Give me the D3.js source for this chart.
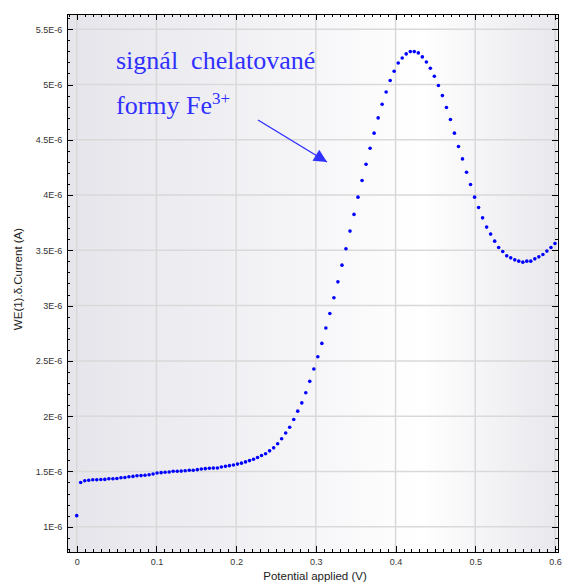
<!DOCTYPE html>
<html>
<head>
<meta charset="utf-8">
<script src="https://cdn.jsdelivr.net/npm/d3@7"></script>
<style>
  body { margin: 0; background: #ffffff; }
  .axis text { font-family: "Liberation Sans", Arial, sans-serif; font-size: 9px; fill: #333333; }
  .axis path, .axis line { stroke: #000000; shape-rendering: crispEdges; }
  .grid line { stroke: #d9d9d9; stroke-width: 1.5px; }
  .title { font-family: "Liberation Sans", Arial, sans-serif; font-size: 11.5px; fill: #222222; }
  .note { font-family: "Liberation Serif", "Times New Roman", serif; font-size: 26px; fill: #3030ff; }
</style>
</head>
<body>
<div id="chart"></div>
<script>
"use strict";

// potential applied (V)
var potentials = [
  0.0000, 0.0050, 0.0101, 0.0151, 0.0202, 0.0252, 0.0303, 0.0353, 0.0403, 0.0454,
  0.0504, 0.0555, 0.0605, 0.0655, 0.0706, 0.0756, 0.0807, 0.0857, 0.0908, 0.0958,
  0.1008, 0.1059, 0.1109, 0.1160, 0.1210, 0.1261, 0.1311, 0.1361, 0.1412, 0.1462,
  0.1513, 0.1563, 0.1613, 0.1664, 0.1714, 0.1765, 0.1815, 0.1866, 0.1916, 0.1966,
  0.2017, 0.2067, 0.2118, 0.2168, 0.2218, 0.2269, 0.2319, 0.2370, 0.2420, 0.2471,
  0.2521, 0.2571, 0.2622, 0.2672, 0.2723, 0.2773, 0.2824, 0.2874, 0.2924, 0.2975,
  0.3025, 0.3076, 0.3126, 0.3176, 0.3227, 0.3277, 0.3328, 0.3378, 0.3429, 0.3479,
  0.3529, 0.3580, 0.3630, 0.3681, 0.3731, 0.3782, 0.3832, 0.3882, 0.3933, 0.3983,
  0.4034, 0.4084, 0.4134, 0.4185, 0.4235, 0.4286, 0.4336, 0.4387, 0.4437, 0.4487,
  0.4538, 0.4588, 0.4639, 0.4689, 0.4739, 0.4790, 0.4840, 0.4891, 0.4941, 0.4992,
  0.5042, 0.5092, 0.5143, 0.5193, 0.5244, 0.5294, 0.5345, 0.5395, 0.5445, 0.5496,
  0.5546, 0.5597, 0.5647, 0.5697, 0.5748, 0.5798, 0.5849, 0.5899, 0.5950, 0.6000
];

// WE(1).δ.Current, in units of 1E-6 A
var currents = [
  1.100, 1.400, 1.415, 1.420, 1.424, 1.425, 1.427, 1.428, 1.433, 1.434,
  1.436, 1.443, 1.445, 1.452, 1.455, 1.461, 1.462, 1.465, 1.470, 1.476,
  1.485, 1.489, 1.492, 1.495, 1.501, 1.502, 1.503, 1.506, 1.510, 1.511,
  1.516, 1.522, 1.525, 1.528, 1.530, 1.531, 1.540, 1.546, 1.552, 1.558,
  1.566, 1.575, 1.586, 1.598, 1.610, 1.626, 1.644, 1.660, 1.686, 1.713,
  1.750, 1.796, 1.847, 1.900, 1.970, 2.045, 2.120, 2.212, 2.315, 2.426,
  2.537, 2.658, 2.797, 2.929, 3.071, 3.215, 3.366, 3.514, 3.674, 3.825,
  3.981, 4.132, 4.279, 4.424, 4.560, 4.698, 4.822, 4.933, 5.036, 5.120,
  5.195, 5.240, 5.277, 5.298, 5.298, 5.286, 5.250, 5.204, 5.147, 5.075,
  4.991, 4.900, 4.792, 4.684, 4.560, 4.439, 4.327, 4.207, 4.096, 3.981,
  3.888, 3.794, 3.710, 3.647, 3.583, 3.526, 3.490, 3.450, 3.432, 3.414,
  3.402, 3.393, 3.402, 3.402, 3.423, 3.441, 3.463, 3.493, 3.526, 3.562
];

var xTicks = [0, 0.1, 0.2, 0.3, 0.4, 0.5, 0.6];
var xTickLabels = ["0", "0.1", "0.2", "0.3", "0.4", "0.5", "0.6"];
var yTicks = [1, 1.5, 2, 2.5, 3, 3.5, 4, 4.5, 5, 5.5];
var yTickLabels = ["1E-6", "1.5E-6", "2E-6", "2.5E-6", "3E-6", "3.5E-6", "4E-6", "4.5E-6", "5E-6", "5.5E-6"];
var xMinorTicks = d3.range(-1, 61).map(function(i) { return i / 100; });
var yMinorTicks = d3.range(8, 57).map(function(i) { return i / 10; });

var noteLine1 = "signál\u00a0 chelatované";
var noteLine2 = "formy Fe";
var noteSup = "3+";

var WIDTH = 564;
var HEIGHT = 582;
var margin = { top: 14, right: 6.5, bottom: 30, left: 67.3 };
var DOT_COLOR = "#0000ff";
var NOTE_COLOR = "#3030ff";

function main() {
  var w = WIDTH - margin.left - margin.right;
  var h = HEIGHT - margin.top - margin.bottom;

  var svg = d3.select("#chart").append("svg")
      .attr("width", WIDTH)
      .attr("height", HEIGHT);

  var defs = svg.append("defs");
  var grad = defs.append("linearGradient")
      .attr("id", "bg")
      .attr("x1", "0%").attr("x2", "100%")
      .attr("y1", "0%").attr("y2", "0%");
  grad.append("stop").attr("offset", "0%").attr("stop-color", "#e5e5eb");
  grad.append("stop").attr("offset", "45%").attr("stop-color", "#f4f4f7");
  grad.append("stop").attr("offset", "72%").attr("stop-color", "#ffffff");
  grad.append("stop").attr("offset", "100%").attr("stop-color", "#e8e8ed");

  defs.append("marker")
      .attr("id", "head")
      .attr("viewBox", "0 0 10 10")
      .attr("refX", 10).attr("refY", 5)
      .attr("markerWidth", 17).attr("markerHeight", 13)
      .attr("markerUnits", "userSpaceOnUse")
      .attr("orient", "auto")
    .append("path")
      .attr("d", "M0,0 L10,5 L0,10 z")
      .attr("fill", NOTE_COLOR);

  var g = svg.append("g")
      .attr("transform", "translate(" + margin.left + "," + margin.top + ")");

  var x = d3.scaleLinear().domain([-0.0118, 0.6032]).range([0, w]);
  var y = d3.scaleLinear().domain([0.771, 5.638]).range([h, 0]);

  g.append("rect")
      .attr("width", w)
      .attr("height", h)
      .attr("fill", "url(#bg)");

  // grid lines at the major ticks
  g.append("g").attr("class", "grid")
    .selectAll("line").data(xTicks).enter().append("line")
      .attr("x1", function(d) { return x(d); })
      .attr("x2", function(d) { return x(d); })
      .attr("y1", 0).attr("y2", h);
  g.append("g").attr("class", "grid")
    .selectAll("line").data(yTicks).enter().append("line")
      .attr("y1", function(d) { return y(d); })
      .attr("y2", function(d) { return y(d); })
      .attr("x1", 0).attr("x2", w);

  // minor ticks, all four sides, pointing inside
  g.append("g").attr("class", "axis")
      .attr("transform", "translate(0," + h + ")")
      .call(d3.axisBottom(x).tickValues(xMinorTicks).tickSize(-3).tickFormat(""));
  g.append("g").attr("class", "axis")
      .call(d3.axisTop(x).tickValues(xMinorTicks).tickSize(-3).tickFormat(""));
  g.append("g").attr("class", "axis")
      .call(d3.axisLeft(y).tickValues(yMinorTicks).tickSize(-3).tickFormat(""));
  g.append("g").attr("class", "axis")
      .attr("transform", "translate(" + w + ",0)")
      .call(d3.axisRight(y).tickValues(yMinorTicks).tickSize(-3).tickFormat(""));

  // major ticks with labels
  g.append("g").attr("class", "axis")
      .attr("transform", "translate(0," + h + ")")
      .call(d3.axisBottom(x).tickValues(xTicks).tickSize(-6).tickPadding(7)
        .tickFormat(function(d, i) { return xTickLabels[i]; }));
  g.append("g").attr("class", "axis")
      .call(d3.axisTop(x).tickValues(xTicks).tickSize(-6).tickFormat(""));
  g.append("g").attr("class", "axis")
      .call(d3.axisLeft(y).tickValues(yTicks).tickSize(-6).tickPadding(5)
        .tickFormat(function(d, i) { return yTickLabels[i]; }));
  g.append("g").attr("class", "axis")
      .attr("transform", "translate(" + w + ",0)")
      .call(d3.axisRight(y).tickValues(yTicks).tickSize(-6).tickFormat(""));

  // data points
  g.append("g").selectAll("circle")
      .data(potentials)
      .enter().append("circle")
      .attr("cx", function(d) { return x(d); })
      .attr("cy", function(d, i) { return y(currents[i]); })
      .attr("r", 1.8)
      .attr("fill", DOT_COLOR);

  // axis titles
  svg.append("text").attr("class", "title")
      .attr("x", 315).attr("y", 580)
      .attr("text-anchor", "middle")
      .text("Potential applied (V)");
  svg.append("text").attr("class", "title")
      .attr("transform", "translate(22,279) rotate(-90)")
      .attr("text-anchor", "middle")
      .text("WE(1).δ.Current (A)");

  // annotation
  svg.append("text").attr("class", "note")
      .attr("x", 116).attr("y", 69)
      .text(noteLine1);
  var t2 = svg.append("text").attr("class", "note")
      .attr("x", 116).attr("y", 114)
      .text(noteLine2);
  t2.append("tspan")
      .attr("dy", -10)
      .attr("font-size", "17px")
      .text(noteSup);

  svg.append("line")
      .attr("x1", 258).attr("y1", 120)
      .attr("x2", 327).attr("y2", 162)
      .attr("stroke", NOTE_COLOR)
      .attr("stroke-width", 1.4)
      .attr("marker-end", "url(#head)");
}

main();
</script>
</body>
</html>
